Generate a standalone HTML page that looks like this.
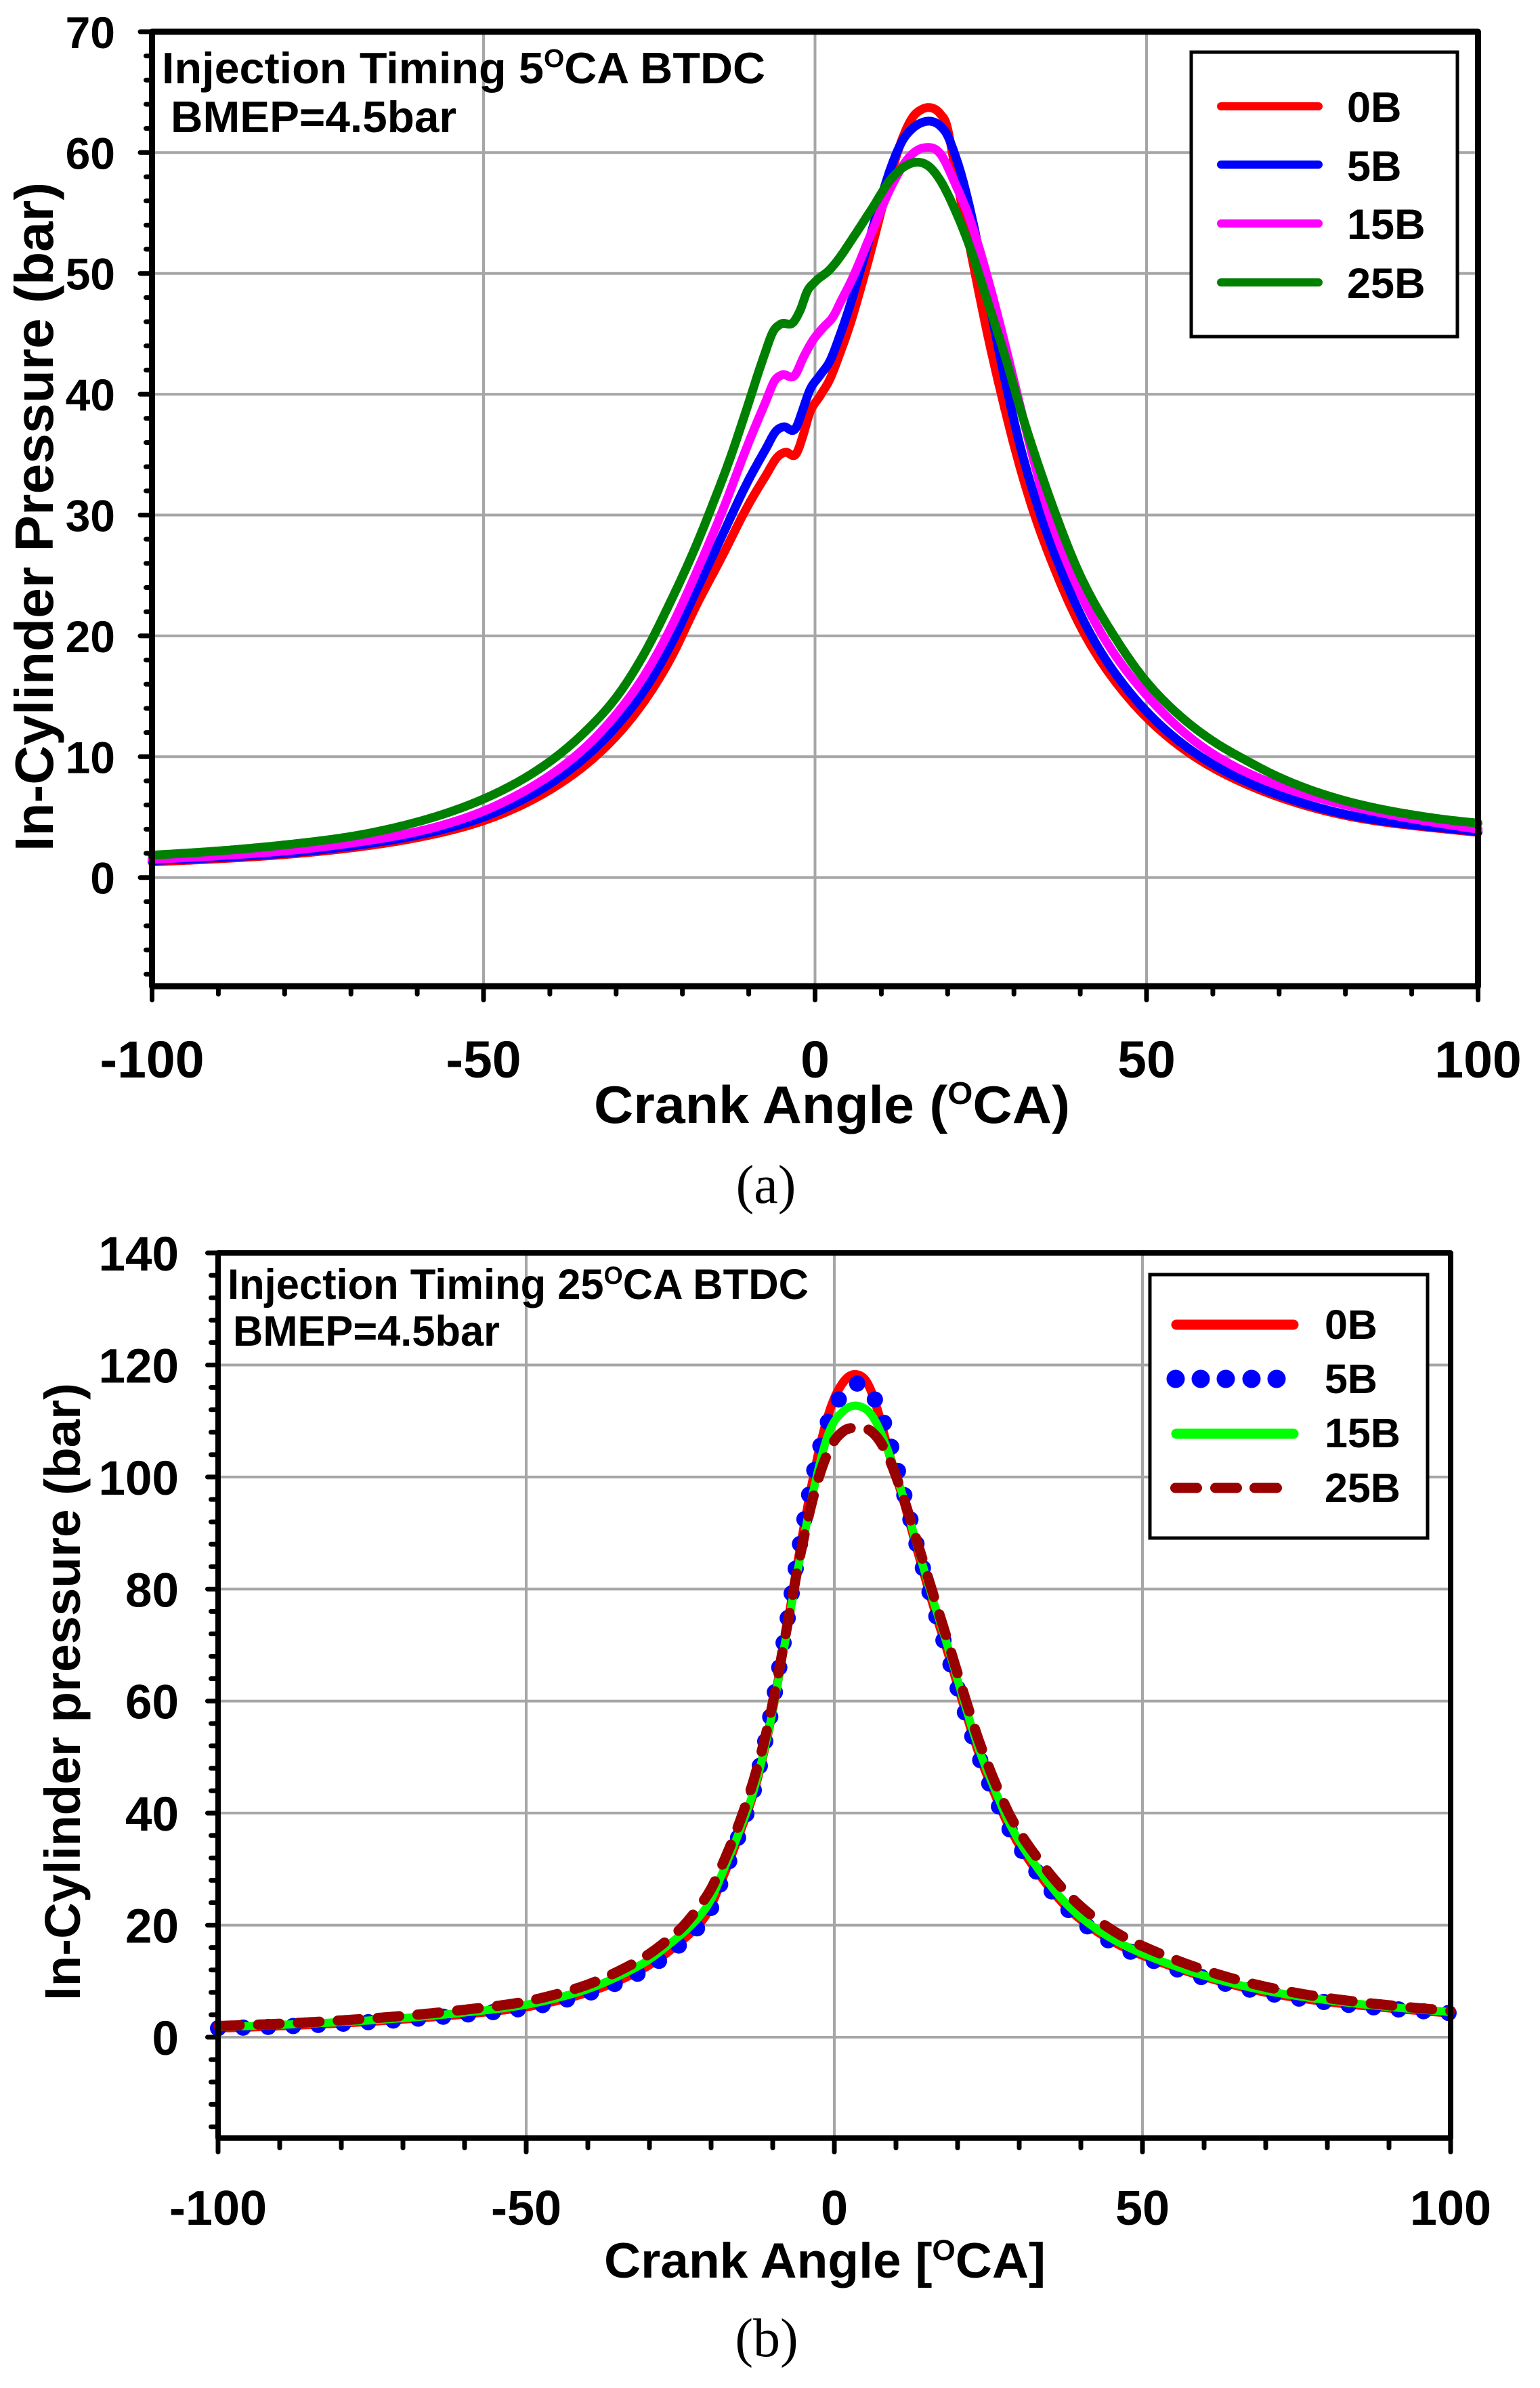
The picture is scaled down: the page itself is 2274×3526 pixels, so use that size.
<!DOCTYPE html>
<html><head><meta charset="utf-8"><style>
html,body{margin:0;padding:0;background:#fff;}
svg{display:block;}
text{font-family:"Liberation Sans",Arial,sans-serif;font-weight:bold;fill:#000;}
.serif{font-family:"Liberation Serif","Times New Roman",serif;font-weight:normal;}
</style></head><body>
<svg id="s" xmlns="http://www.w3.org/2000/svg" width="2274" height="3526" viewBox="0 0 2274 3526">
<rect x="0" y="0" width="2274" height="3526" fill="#fff"/>
<g id="grid"></g>
<g id="curves"></g>
<g id="axes"></g>

<!-- Panel A legend -->
<rect x="1759" y="77" width="393" height="420" fill="#fff" stroke="#000" stroke-width="5"/>
<line x1="1803" y1="157" x2="1947" y2="157" stroke="#ff0000" stroke-width="12" stroke-linecap="round"/>
<line x1="1803" y1="243" x2="1947" y2="243" stroke="#0000ff" stroke-width="12" stroke-linecap="round"/>
<line x1="1803" y1="330" x2="1947" y2="330" stroke="#ff00ff" stroke-width="12" stroke-linecap="round"/>
<line x1="1803" y1="417" x2="1947" y2="417" stroke="#008000" stroke-width="12" stroke-linecap="round"/>
<text x="1989" y="180" font-size="63">0B</text>
<text x="1989" y="267" font-size="63">5B</text>
<text x="1989" y="353" font-size="63">15B</text>
<text x="1989" y="440" font-size="63">25B</text>

<!-- Panel A annotations -->
<text x="239" y="123" font-size="65" textLength="891" lengthAdjust="spacingAndGlyphs">Injection Timing 5<tspan font-size="38" dy="-24">O</tspan><tspan dy="24">CA BTDC</tspan></text>
<text x="252" y="195" font-size="65" textLength="422" lengthAdjust="spacingAndGlyphs">BMEP=4.5bar</text>

<!-- Panel A titles -->
<text x="877" y="1658" font-size="78" textLength="703" lengthAdjust="spacingAndGlyphs">Crank Angle (<tspan font-size="46" dy="-28">O</tspan><tspan dy="28">CA)</tspan></text>
<text transform="translate(78,763) rotate(-90)" x="0" y="0" font-size="80" text-anchor="middle" textLength="988" lengthAdjust="spacingAndGlyphs">In-Cylinder Pressure (bar)</text>
<text class="serif" x="1131" y="1776" font-size="80" text-anchor="middle">(a)</text>

<!-- Panel B legend -->
<rect x="1698" y="1882" width="410" height="389" fill="#fff" stroke="#000" stroke-width="5"/>
<line x1="1737" y1="1956" x2="1910" y2="1956" stroke="#ff0000" stroke-width="15" stroke-linecap="round"/>
<circle cx="1736" cy="2036" r="13.5" fill="#0000ff"/>
<circle cx="1773" cy="2036" r="13.5" fill="#0000ff"/>
<circle cx="1810" cy="2036" r="13.5" fill="#0000ff"/>
<circle cx="1848" cy="2036" r="13.5" fill="#0000ff"/>
<circle cx="1885" cy="2036" r="13.5" fill="#0000ff"/>
<line x1="1737" y1="2117" x2="1910" y2="2117" stroke="#00ff00" stroke-width="15" stroke-linecap="round"/>
<line x1="1735.5" y1="2197" x2="1767.5" y2="2197" stroke="#990000" stroke-width="15" stroke-linecap="round"/>
<line x1="1794.5" y1="2197" x2="1826.5" y2="2197" stroke="#990000" stroke-width="15" stroke-linecap="round"/>
<line x1="1852.5" y1="2197" x2="1885.5" y2="2197" stroke="#990000" stroke-width="15" stroke-linecap="round"/>
<text x="1956" y="1977" font-size="61">0B</text>
<text x="1956" y="2057" font-size="61">5B</text>
<text x="1956" y="2137" font-size="61">15B</text>
<text x="1956" y="2218" font-size="61">25B</text>

<!-- Panel B annotations -->
<text x="336" y="1918" font-size="63" textLength="858" lengthAdjust="spacingAndGlyphs">Injection Timing 25<tspan font-size="37" dy="-22">O</tspan><tspan dy="22">CA BTDC</tspan></text>
<text x="344" y="1987" font-size="63" textLength="394" lengthAdjust="spacingAndGlyphs">BMEP=4.5bar</text>

<!-- Panel B titles -->
<text x="892" y="3363" font-size="73" textLength="652" lengthAdjust="spacingAndGlyphs">Crank Angle [<tspan font-size="43" dy="-26">O</tspan><tspan dy="26">CA]</tspan></text>
<text transform="translate(118,2498) rotate(-90)" x="0" y="0" font-size="74" text-anchor="middle" textLength="912" lengthAdjust="spacingAndGlyphs">In-Cylinder pressure (bar)</text>
<text class="serif" x="1132" y="3479" font-size="80" text-anchor="middle">(b)</text>

<g id="labels"></g>
</svg>
<script>
(function(){
var NS="http://www.w3.org/2000/svg";
function el(parent,tag,attrs,txt){var e=document.createElementNS(NS,tag);for(var k in attrs)e.setAttribute(k,attrs[k]);if(txt!==undefined)e.textContent=txt;document.getElementById(parent).appendChild(e);return e;}
function ax(x){return 224.5+(x+100)*9.79;} function ay(y){return 1295.7-y*17.84;}
function bx(x){return 322+(x+100)*9.1;} function by(y){return 3008-y*8.271;}
var A={L:224.5,R:2182.5,T:ay(70),B:ay(-9)};
var B={L:322,R:2142,T:by(140),B:by(-18)};
var GC="#a6a6a6";
for(var v=0;v<70;v+=10){el("grid","line",{x1:A.L,x2:A.R,y1:ay(v),y2:ay(v),stroke:GC,"stroke-width":4});}
[-50,0,50].forEach(function(x){el("grid","line",{x1:ax(x),x2:ax(x),y1:A.T,y2:A.B,stroke:GC,"stroke-width":4});});
for(var v=0;v<140;v+=20){el("grid","line",{x1:B.L,x2:B.R,y1:by(v),y2:by(v),stroke:GC,"stroke-width":4});}
[-50,0,50].forEach(function(x){el("grid","line",{x1:bx(x),x2:bx(x),y1:B.T,y2:B.B,stroke:GC,"stroke-width":4});});

function sample(data){
  var n=data.length,xs=[],ys=[],m=[],i;
  for(i=0;i<n;i++){xs.push(data[i][0]);ys.push(Math.log(data[i][1]));}
  for(i=0;i<n;i++){
    if(i===0){m.push((ys[1]-ys[0])/(xs[1]-xs[0]));}
    else if(i===n-1){m.push((ys[n-1]-ys[n-2])/(xs[n-1]-xs[n-2]));}
    else{var h0=xs[i]-xs[i-1],h1=xs[i+1]-xs[i];
      var d0=(ys[i]-ys[i-1])/h0,d1=(ys[i+1]-ys[i])/h1;
      m.push((h1*d0+h0*d1)/(h0+h1));}
  }
  var out=[[xs[0],data[0][1]]];
  for(i=0;i<n-1;i++){
    var h=xs[i+1]-xs[i],steps=Math.max(2,Math.ceil(h/0.2));
    for(var k=1;k<=steps;k++){
      var t=k/steps,t2=t*t,t3=t2*t;
      var y=(2*t3-3*t2+1)*ys[i]+(t3-2*t2+t)*h*m[i]+(-2*t3+3*t2)*ys[i+1]+(t3-t2)*h*m[i+1];
      out.push([xs[i]+t*h,Math.exp(y)]);
    }
  }
  return out;
}
function curve(data,mx,my,attrs){
  var pts=sample(data),d="";
  for(var i=0;i<pts.length;i++){d+=(i?"L":"M")+mx(pts[i][0]).toFixed(1)+","+my(pts[i][1]).toFixed(1);}
  attrs.d=d;attrs.fill="none";attrs["stroke-linejoin"]="round";
  if(!attrs["stroke-linecap"])attrs["stroke-linecap"]="round";
  el("curves","path",attrs);
}
// Panel A
var a0=[[-100,1.3],[-90,1.55],[-80,1.9],[-70,2.45],[-60,3.3],[-50,4.7],[-45,5.8],[-40,7.25],[-35,9.15],[-30,11.7],[-26,14.4],[-22,17.9],[-18.1,22.3],[-14,26.6],[-10.3,30.6],[-7.5,33.2],[-5.5,34.9],[-4.5,35.2],[-2.8,35.1],[-1.8,36.6],[-0.9,38.3],[0.8,39.9],[2.2,41.2],[3.7,43.3],[5.3,45.8],[6.8,48.6],[8.4,51.8],[10,55.2],[11.6,58.5],[13.2,61.2],[14.7,62.9],[16.2,63.6],[17.6,63.7],[18.9,63.2],[19.9,62.2],[20.6,60.3],[21.5,57.5],[23.6,51.5],[26.2,44.5],[28.8,38.4],[30,35.8],[32.7,30.7],[36,25.73],[40.5,20.3],[47.3,14.85],[56.5,10.28],[66.6,7.36],[80,5.13],[100,3.73]];
var a5=[[-100,1.4],[-90,1.65],[-80,2.0],[-70,2.6],[-60,3.5],[-50,5.0],[-45,6.2],[-40,7.75],[-35,9.8],[-30,12.5],[-26,15.3],[-22,19.0],[-18.1,23.5],[-14,28.3],[-10.3,32.6],[-7.5,35.4],[-5.8,37.0],[-4.8,37.3],[-2.9,37.2],[-1.8,38.8],[-0.9,40.2],[0.8,41.6],[2.2,42.7],[3.7,44.8],[5.3,47.4],[6.8,50.2],[8.4,53.2],[10,56.3],[11.6,59.0],[13.2,61.0],[14.7,62.0],[16.2,62.5],[17.3,62.6],[18.9,62.2],[19.9,61.5],[21,60.0],[22,58.3],[23.6,54.8],[26.2,47.8],[28.8,40.8],[30.9,35.8],[33.6,30.7],[36.9,25.73],[41.4,20.3],[48.2,14.85],[57.4,10.28],[67.5,7.36],[80.9,5.13],[100,3.8]];
var a15=[[-100,1.5],[-90,1.8],[-80,2.2],[-70,2.85],[-60,3.8],[-50,5.5],[-45,6.8],[-40,8.45],[-35,10.6],[-30,13.5],[-26,16.5],[-22,20.4],[-18.1,25.0],[-14,30.3],[-10.3,35.6],[-7.5,39.3],[-6,41.2],[-5,41.6],[-3.0,41.6],[-1.8,43.0],[-0.4,44.4],[1.2,45.5],[2.7,46.4],[4,47.8],[5.3,49.2],[8.4,53.2],[11.6,57.3],[14.7,59.9],[16.5,60.4],[18.9,59.9],[21,57.6],[23.6,54.1],[26.2,49.3],[28.8,43.8],[31.4,38.0],[35,30.6],[38.9,24.9],[43.3,20.1],[50.2,14.97],[59.8,10.3],[70,7.58],[82,5.75],[100,4.0]];
var a25=[[-100,1.85],[-90,2.2],[-80,2.7],[-70,3.4],[-60,4.6],[-50,6.5],[-45,7.85],[-40,9.6],[-35,11.9],[-30,14.9],[-26,18.3],[-22,22.6],[-18,27.4],[-15.5,30.8],[-13,34.4],[-10.3,38.8],[-7.8,43.0],[-6.2,45.3],[-5.2,45.8],[-3.2,46.0],[-2.2,47.0],[-1.2,48.5],[0,49.3],[2.2,50.3],[3.7,51.3],[5.3,52.6],[8.4,55.2],[11.6,57.9],[14,59.0],[15.7,59.2],[17.3,58.8],[19,57.6],[21,55.4],[23.6,51.8],[26.2,47.4],[28.8,42.9],[31.4,38.0],[34.2,33.3],[36.2,30.2],[40,25.0],[45.1,20.0],[50,16.2],[55,13.4],[60,11.3],[65,9.7],[70,8.3],[75,7.2],[80,6.35],[85,5.7],[90,5.2],[95,4.8],[100,4.5]];
curve(a0,ax,ay,{stroke:"#ff0000","stroke-width":13});
curve(a5,ax,ay,{stroke:"#0000ff","stroke-width":13});
curve(a15,ax,ay,{stroke:"#ff00ff","stroke-width":13});
curve(a25,ax,ay,{stroke:"#008000","stroke-width":13});
// Panel B
var b0=[[-100,1.6],[-90,2.0],[-80,2.5],[-70,3.2],[-60,4.1],[-50,5.4],[-45,6.5],[-40,8.0],[-35,10.1],[-30,12.9],[-27,15.2],[-25,17],[-22.5,19.5],[-21,21.5],[-18.1,28.5],[-15.5,36],[-13.2,43.2],[-10.8,54],[-8.3,69],[-5.9,85],[-3.4,100],[-1,111],[1.5,117],[3.5,118.3],[5.5,116.5],[7,112],[8.8,104.6],[11.3,95.5],[13.7,86],[16.2,76.5],[18.6,68],[21.1,58.8],[23.5,50.5],[26,43.5],[28.4,37.5],[33.3,29],[38.2,22.7],[43.1,18.5],[48,15.5],[51.4,14],[60,10.8],[70,8.0],[80,6.3],[90,5.2],[100,4.3]];
var b5=[[-100,1.6],[-90,1.9],[-80,2.4],[-70,3.1],[-60,4.0],[-50,5.2],[-45,6.3],[-40,7.8],[-35,9.8],[-30,12.5],[-27,14.8],[-25,16.6],[-22.5,19.2],[-21,21],[-18.1,28.5],[-15.5,36],[-13.2,43.6],[-10.8,55],[-8.3,70],[-5.9,86],[-3.4,100.5],[-1,110],[1.5,115],[4.5,116.5],[6.5,114],[7.5,111.5],[8.8,107],[11.3,97],[13.7,86.5],[16.2,76.5],[18.6,67.5],[21.1,58.3],[23.5,50],[26,43],[28.4,37.2],[33.3,28.8],[38.2,22.5],[43.1,18.2],[48,15.3],[51.4,13.8],[60,10.6],[70,7.9],[80,6.2],[90,5.1],[100,4.3]];
var b15=[[-100,1.8],[-90,2.2],[-80,2.7],[-70,3.4],[-60,4.4],[-50,5.8],[-45,7.0],[-40,8.6],[-35,10.9],[-30,13.9],[-27,16.4],[-25,18.2],[-22.5,20.8],[-20,24.6],[-18.1,29.5],[-15.5,36.5],[-13.2,43.6],[-10.8,54],[-8.3,68.6],[-5.9,83.6],[-3.4,97.5],[-1,107.6],[1.5,111.8],[3.8,112.7],[6.4,110.5],[8.8,104.4],[11.3,96],[13.7,86.7],[16.2,77.4],[18.6,69],[21.1,59.7],[23.5,51.3],[26,44.3],[28.4,38.2],[33.3,29.7],[38.2,23.2],[43.1,18.9],[48,15.9],[51.4,14.3],[60,11],[70,8.3],[80,6.6],[90,5.4],[100,4.5]];
var b25=[[-100,2.0],[-90,2.4],[-80,3.0],[-70,3.8],[-60,4.9],[-50,6.4],[-45,7.7],[-40,9.4],[-35,11.8],[-30,14.9],[-27,17.4],[-25,19.3],[-22.5,22.5],[-20,26.5],[-18.1,31],[-15.5,38],[-13.2,45.5],[-10.8,55.5],[-8.3,69.5],[-5.9,84],[-3.4,96.5],[-1,104.5],[1.5,108.2],[3.5,108.8],[5.5,108.5],[7,107],[8.8,103.5],[11.3,96],[13.7,87.5],[16.2,78.5],[18.6,70],[21.1,61],[23.5,52.8],[26,45.7],[28.4,39.8],[33.3,31.5],[38.2,25.2],[43.1,20.6],[48,17.3],[51.4,15.6],[60,12.0],[70,9.0],[80,7.0],[90,5.7],[100,4.7]];
curve(b0,bx,by,{stroke:"#ff0000","stroke-width":13});
curve(b5,bx,by,{stroke:"#0000ff","stroke-width":24,"stroke-dasharray":"0 37"});
curve(b15,bx,by,{stroke:"#00ff00","stroke-width":12});
curve(b25,bx,by,{stroke:"#990000","stroke-width":15,"stroke-dasharray":"32 27","stroke-linecap":"round"});

function rectAxes(P,w){
  el("axes","rect",{x:P.L,y:P.T,width:P.R-P.L,height:P.B-P.T,fill:"none",stroke:"#000","stroke-width":w,"stroke-linejoin":"round"});
}
rectAxes(A,9);
for(var v=-8;v<=70;v+=2){var maj=(v%10===0);
  el("axes","line",{x1:maj?207:215.5,x2:A.L,y1:ay(v),y2:ay(v),stroke:"#000","stroke-width":7,"stroke-linecap":"round"});}
for(var x=-100;x<=100;x+=10){var maj=(x%50===0);
  el("axes","line",{x1:ax(x),x2:ax(x),y1:A.B,y2:maj?1476.5:1468,stroke:"#000","stroke-width":7,"stroke-linecap":"round"});}
rectAxes(B,8);
for(var v=-16;v<=140;v+=4){var maj=(v%20===0);
  el("axes","line",{x1:maj?306.5:311.5,x2:B.L,y1:by(v),y2:by(v),stroke:"#000","stroke-width":7,"stroke-linecap":"round"});}
for(var x=-100;x<=100;x+=10){var maj=(x%50===0);
  el("axes","line",{x1:bx(x),x2:bx(x),y1:B.B,y2:maj?3177.5:3171.5,stroke:"#000","stroke-width":7,"stroke-linecap":"round"});}

for(var v=0;v<=70;v+=10){el("labels","text",{x:170,y:(ay(v)+24).toFixed(1),"font-size":66,"text-anchor":"end"},String(v));}
[-100,-50,0,50,100].forEach(function(x){el("labels","text",{x:ax(x).toFixed(1),y:1591,"font-size":77,"text-anchor":"middle"},String(x));});
for(var v=0;v<=140;v+=20){el("labels","text",{x:264,y:(by(v)+26).toFixed(1),"font-size":71,"text-anchor":"end"},String(v));}
[-100,-50,0,50,100].forEach(function(x){el("labels","text",{x:bx(x).toFixed(1),y:3285,"font-size":72,"text-anchor":"middle"},String(x));});
})();
</script>
</body></html>
